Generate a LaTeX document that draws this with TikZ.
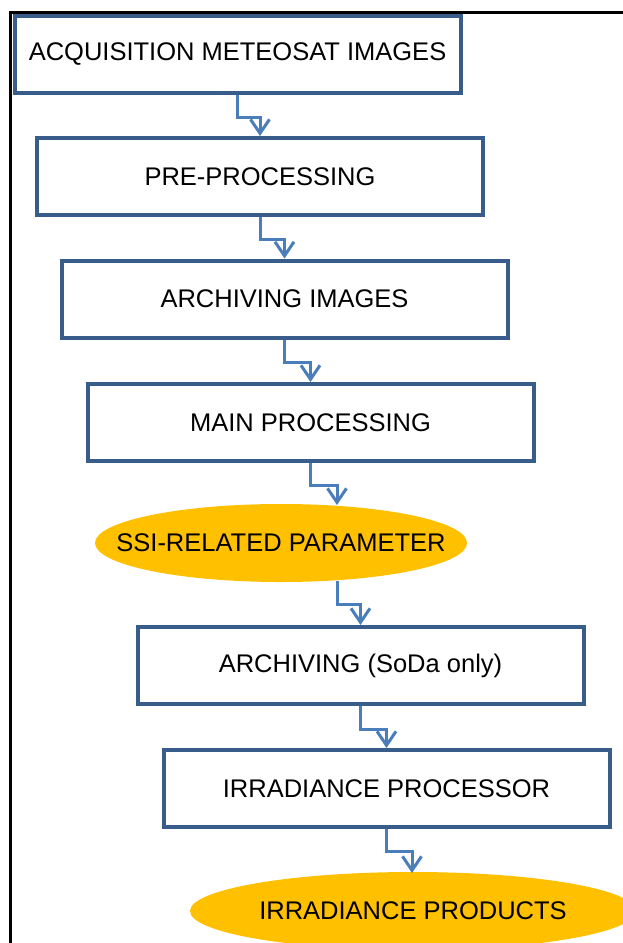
\documentclass[tikz,border=0pt]{standalone}
\usepackage{fontspec}
\setmainfont{Liberation Sans}
\usetikzlibrary{shapes.geometric,arrows.meta,calc}
\definecolor{boxblue}{HTML}{385D8A}
\definecolor{connblue}{HTML}{4A7EBB}
\definecolor{ellfill}{HTML}{FFC000}
\begin{document}
\begin{tikzpicture}[x=1pt,y=-1pt,
  stepbox/.style={draw=boxblue, line width=4pt, rectangle, minimum width=446pt, minimum height=77pt, inner sep=0pt, font=\fontsize{25.5}{30}\selectfont},
  ovalnode/.style={ellipse, fill=ellfill, inner sep=0pt, draw=none},
  ovaltext/.style={font=\fontsize{25.5}{30}\selectfont, inner sep=0pt},
  conn/.style={draw=connblue, line width=3pt, -{Straight Barb[length=14pt,width=19pt]}},
  frameline/.style={draw=black, line width=3pt}
]
\useasboundingbox (0,0) rectangle (623,943);
\draw[frameline] (10,950) -- (10,12) -- (630,12);

\node[stepbox] (b1) at (237.5,54.5) {ACQUISITION METEOSAT IMAGES};
\node[stepbox] (b2) at (260,176.5) {PRE-PROCESSING};
\node[stepbox] (b3) at (284.5,299) {ARCHIVING IMAGES};
\node[stepbox] (b4) at (310.5,422.5) {MAIN PROCESSING};
\node[ovalnode, minimum width=372pt, minimum height=78pt,
      label={[ovaltext]center:SSI-RELATED PARAMETER}] (e1) at (281,543) {};
\node[stepbox] (b6) at (360.5,665.5) {ARCHIVING (SoDa only)};
\node[stepbox] (b7) at (386.5,788.5) {IRRADIANCE PROCESSOR};
\node[ovalnode, minimum width=446pt, minimum height=78pt,
      label={[ovaltext]center:IRRADIANCE PRODUCTS}] (e2) at (413,911) {};

\coordinate (e1in) at (337,505);
\coordinate (e1out) at (337,581);
\coordinate (e2in) at (412,873);

\draw[conn] (b1.south) -- ++(0,22.5) -| (b2.north);
\draw[conn] (b2.south) -- ++(0,22.5) -| (b3.north);
\draw[conn] (b3.south) -- ++(0,23) -| (b4.north);
\draw[conn] (b4.south) -- ++(0,22) -| (e1in);
\draw[conn] (e1out) -- ++(0,23) -| (b6.north);
\draw[conn] (b6.south) -- ++(0,23) -| (b7.north);
\draw[conn] (b7.south) -- ++(0,22) -| (e2in);
\end{tikzpicture}
\end{document}
